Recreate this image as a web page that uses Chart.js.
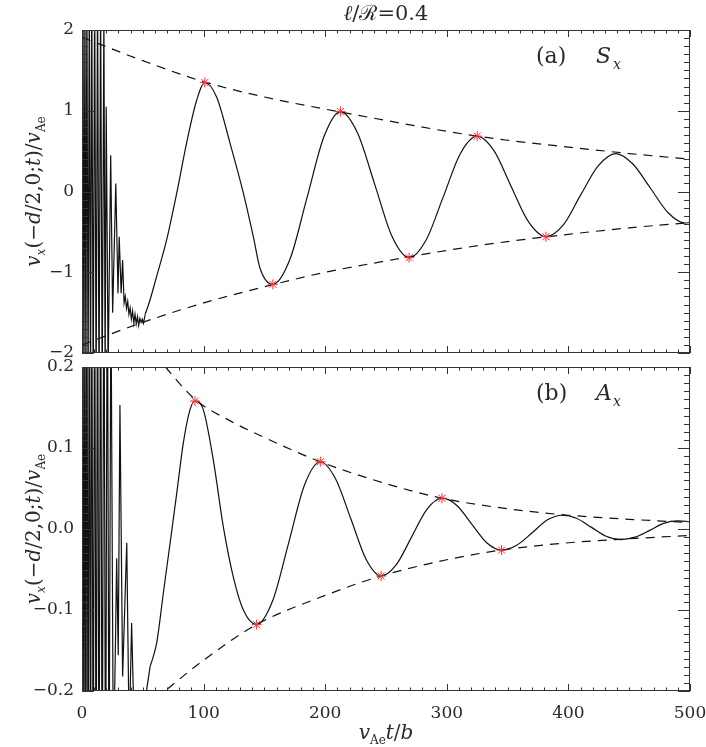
<!DOCTYPE html>
<html>
<head>
<meta charset="utf-8">
<script src="https://cdn.jsdelivr.net/npm/chart.js@4.4.0/dist/chart.umd.min.js"></script>
<style>
body { margin: 0; background: #fff; }
#wrap { position: relative; width: 706px; height: 747px; }
canvas { position: absolute; left: 0; }
</style>
</head>
<body>
<div id="wrap">
<canvas id="topChart" width="706" height="370" style="top:0px"></canvas>
<canvas id="botChart" width="706" height="410" style="top:337px"></canvas>
</div>
<script>
// ---- panel (a): S_x ----
var noiseTopX = [0, 0.8, 1.6, 2.4, 3.2, 4.0, 5.0, 6.0, 7.0, 8.0, 9.2, 10.4, 11.6, 12.8, 14.0, 15.3, 16.6, 18.0, 19.0, 19.9, 21.5, 23.6, 25.2, 27.8, 29.6, 30.6, 32.2, 33.4, 34.6, 35.6, 36.6, 37.6, 38.6, 39.6, 40.6, 41.6, 42.6, 43.6, 44.6, 45.6, 46.6, 47.6, 48.6, 49.6, 50.6, 52];
var noiseTopY = [0, 2.6, -2.6, 2.6, -2.6, 2.6, -2.6, 2.6, -2.6, 2.6, -2.6, 2.6, -2.6, 2.6, -2.6, 2.4, -2.5, 2.2, -2.3, 1.05, -2.2, 0.45, -1.5, 0.10, -1.26, -0.56, -1.26, -0.85, -1.38, -1.30, -1.45, -1.36, -1.52, -1.44, -1.58, -1.48, -1.63, -1.52, -1.64, -1.55, -1.66, -1.57, -1.62, -1.58, -1.63, -1.52];

var waveTopX = [52, 56, 61.4, 69.6, 77.9, 86, 94.3, 101, 110.7, 121.7, 132.7, 140.9, 146.4, 157, 171, 185, 199, 212.5, 226.6, 240.8, 254.9, 269, 283, 297, 311, 325, 339, 353, 367.4, 381.5, 396, 410, 424.6, 439, 453, 467.5, 481.8, 496, 500];
var waveTopY = [-1.52, -1.34, -1.05, -0.60, -0.02, 0.60, 1.13, 1.35, 1.17, 0.60, -0.02, -0.56, -0.95, -1.15, -0.84, -0.08, 0.68, 0.99, 0.725, 0.085, -0.555, -0.82, -0.60, -0.07, 0.465, 0.685, 0.50, 0.06, -0.38, -0.56, -0.41, -0.045, 0.32, 0.47, 0.34, 0.04, -0.26, -0.39, -0.385];

var starTopX = [101, 157, 212.5, 269, 325, 381.5];
var starTopY = [1.35, -1.15, 0.99, -0.82, 0.685, -0.56];

var envTopX = [0, 50, 100, 150, 200, 250, 300, 350, 400, 450, 500];
var envTopUp = [1.91, 1.62, 1.36, 1.17, 1.02, 0.88, 0.745, 0.635, 0.55, 0.47, 0.40];
var envTopLo = [-1.90, -1.62, -1.38, -1.18, -1.00, -0.86, -0.73, -0.62, -0.53, -0.45, -0.385];

// ---- panel (b): A_x ----
var noiseBotX = [0, 0.8, 1.6, 2.4, 3.2, 4.0, 5.0, 6.0, 7.0, 8.0, 9.2, 10.4, 11.6, 12.8, 14.0, 15.3, 16.6, 18.0, 19.4, 20.8, 22.2, 23.8, 25.8, 27.6, 28.5, 29.8, 31.2, 33.4, 36.8, 38.8, 40.8, 43.5, 46.5, 48, 49.5, 51, 52.5, 54, 56];
var noiseBotY = [0, 0.4, -0.4, 0.4, -0.4, 0.4, -0.4, 0.4, -0.4, 0.4, -0.4, 0.4, -0.4, 0.4, -0.4, 0.4, -0.4, 0.4, -0.4, 0.4, -0.35, 0.3, -0.3, -0.133, -0.036, -0.156, 0.153, -0.182, -0.017, -0.26, -0.116, -0.28, -0.21, -0.24, -0.2, -0.235, -0.205, -0.19, -0.17];

var waveBotX = [56, 61.4, 66.9, 72.4, 77.9, 83.3, 88.8, 92.9, 99.8, 108, 116.2, 124.4, 132.7, 143.6, 156.7, 169.8, 182.9, 196, 208.5, 221, 233.5, 246, 258.5, 271, 283.5, 296, 308.3, 320.5, 332.8, 345, 357.5, 370, 382.5, 395, 407, 419, 431, 443, 454.8, 466.5, 478.3, 490, 500];
var waveBotY = [-0.170, -0.141, -0.079, -0.018, 0.044, 0.106, 0.147, 0.158, 0.147, 0.085, 0.003, -0.059, -0.100, -0.118, -0.089, -0.018, 0.054, 0.083, 0.062, 0.013, -0.037, -0.058, -0.044, -0.010, 0.024, 0.038, 0.029, 0.006, -0.017, -0.026, -0.020, -0.005, 0.011, 0.017, 0.013, 0.002, -0.009, -0.013, -0.010, -0.002, 0.007, 0.010, 0.009];

var starBotX = [92.9, 143.6, 196, 246, 296, 345];
var starBotY = [0.158, -0.118, 0.083, -0.058, 0.038, -0.026];

var envBotUpX = [60, 93, 120, 150, 196, 250, 296, 350, 400, 450, 500];
var envBotUp = [0.215, 0.16, 0.135, 0.113, 0.083, 0.056, 0.038, 0.025, 0.017, 0.012, 0.008];
var envBotLoX = [60, 100, 143.6, 200, 246, 300, 345, 400, 450, 500];
var envBotLo = [-0.21, -0.162, -0.118, -0.082, -0.058, -0.038, -0.026, -0.017, -0.012, -0.008];

var FONT = '"DejaVu Serif", "Liberation Serif", serif';
var INK = '#2a2a2a';

function pts(xs, ys) {
    return xs.map(function (x, i) { return { x: x, y: ys[i] }; });
}

function minus(s) {
    return String(s).replace('-', '\u2212');
}

// text made of pieces, some italic, some subscript
function rich(ctx, parts, cx, cy, angle, size) {
    ctx.save();
    ctx.translate(cx, cy);
    ctx.rotate(angle);
    ctx.fillStyle = INK;
    ctx.textBaseline = 'middle';
    var total = 0;
    parts.forEach(function (p) {
        p.font = (p.i ? 'italic ' : '') + (p.s ? Math.round(size * 0.62) : size) + 'px ' + FONT;
        ctx.font = p.font;
        p.w = ctx.measureText(p.t).width;
        total += p.w;
    });
    var x = -total / 2;
    parts.forEach(function (p) {
        ctx.font = p.font;
        ctx.fillText(p.t, x, p.s ? size * 0.32 : 0);
        x += p.w;
    });
    ctx.restore();
}

var yTitle = [{t: 'v', i: 1}, {t: 'x', i: 1, s: 1}, {t: '(\u2212'}, {t: 'd', i: 1}, {t: '/2,0;'}, {t: 't', i: 1}, {t: ')/'}, {t: 'v', i: 1}, {t: 'Ae', s: 1}];

// box + inward ticks on all four sides
var frame = {
    id: 'frame',
    afterDatasetsDraw: function (chart, args, opts) {
        var a = chart.chartArea, ctx = chart.ctx;
        var xs = chart.scales.x, ys = chart.scales.y;
        ctx.save();
        ctx.strokeStyle = '#333';
        ctx.lineWidth = 1;
        ctx.strokeRect(a.left + 0.5, a.top + 0.5, a.right - a.left - 1, a.bottom - a.top - 1);
        ctx.beginPath();
        for (var i = 0; i <= 50; i++) {
            var px = Math.round(xs.getPixelForValue(i * 10)) + 0.5;
            var len = i % 10 === 0 ? 7 : 3.5;
            ctx.moveTo(px, a.bottom); ctx.lineTo(px, a.bottom - len);
            ctx.moveTo(px, a.top); ctx.lineTo(px, a.top + len);
        }
        var n = Math.round((ys.max - ys.min) / opts.minor);
        for (var j = 0; j <= n; j++) {
            var v = ys.min + j * opts.minor;
            var r = v / opts.major;
            var big = Math.abs(r - Math.round(r)) < 1e-6;
            var py = Math.round(ys.getPixelForValue(v)) + 0.5;
            var l = big ? 12 : 6;
            ctx.moveTo(a.left, py); ctx.lineTo(a.left + l, py);
            ctx.moveTo(a.right, py); ctx.lineTo(a.right - l, py);
        }
        ctx.stroke();
        ctx.restore();
    }
};

function panelLabel(ctx, tag, letter) {
    ctx.save();
    ctx.fillStyle = INK;
    ctx.textBaseline = 'middle';
    ctx.font = '22px ' + FONT;
    ctx.fillText(tag, 536, 57);
    ctx.font = 'italic 22px ' + FONT;
    ctx.fillText(letter, 596, 57);
    ctx.font = 'italic 14px ' + FONT;
    ctx.fillText('x', 613, 65);
    ctx.restore();
}

function datasets(nx, ny, wx, wy, sx, sy, eux, euy, elx, ely) {
    return [
        {
            data: pts(sx, sy), showLine: false, pointStyle: 'star', pointRadius: 5,
            pointBorderColor: '#ff3030', pointBorderWidth: 1, pointBackgroundColor: '#ff3030'
        },
        { data: pts(wx, wy), borderColor: '#111', borderWidth: 1.2, pointRadius: 0, cubicInterpolationMode: 'monotone' },
        { data: pts(nx, ny), borderColor: '#111', borderWidth: 1.2, pointRadius: 0, tension: 0 },
        { data: pts(eux, euy), borderColor: '#111', borderWidth: 1.2, borderDash: [9, 7], pointRadius: 0, cubicInterpolationMode: 'monotone' },
        { data: pts(elx, ely), borderColor: '#111', borderWidth: 1.2, borderDash: [9, 7], pointRadius: 0, cubicInterpolationMode: 'monotone' }
    ];
}

function yAxis(lim, step, fmt) {
    return {
        type: 'linear', min: -lim, max: lim,
        grid: { display: false, drawTicks: false },
        border: { display: false },
        ticks: { stepSize: step, padding: 8, color: INK, font: { family: FONT, size: 17 }, callback: fmt },
        afterFit: function (s) { s.width = 82; s.paddingTop = 0; s.paddingBottom = 0; }
    };
}

function xAxis(show) {
    return {
        type: 'linear', min: 0, max: 500,
        grid: { display: false, drawTicks: false }, border: { display: false },
        ticks: { display: show, stepSize: 100, padding: 12, maxRotation: 0, color: INK, font: { family: FONT, size: 17 } },
        afterFit: function (s) { s.height = show ? 56 : 0; s.paddingLeft = 0; s.paddingRight = 0; }
    };
}

var topChart = new Chart(document.getElementById('topChart').getContext('2d'), {
    type: 'line',
    data: { datasets: datasets(noiseTopX, noiseTopY, waveTopX, waveTopY, starTopX, starTopY, envTopX, envTopUp, envTopX, envTopLo) },
    options: {
        responsive: false, animation: false, devicePixelRatio: 1,
        layout: { padding: { top: 30, right: 16, bottom: 17, left: 0 } },
        plugins: { legend: { display: false }, tooltip: { enabled: false }, frame: { minor: 0.1, major: 1 } },
        scales: { x: xAxis(false), y: yAxis(2, 1, function (v) { return minus(v); }) }
    },
    plugins: [frame, {
        id: 'textA',
        afterDraw: function (chart) {
            var ctx = chart.ctx;
            rich(ctx, [{t: '\u2113', i: 1}, {t: '/'}, {t: '\u211B'}, {t: '=0.4'}], 386, 15, 0, 21);
            rich(ctx, yTitle, 35, 191.5, -Math.PI / 2, 20);
            panelLabel(ctx, '(a)', 'S');
        }
    }]
});

var botChart = new Chart(document.getElementById('botChart').getContext('2d'), {
    type: 'line',
    data: { datasets: datasets(noiseBotX, noiseBotY, waveBotX, waveBotY, starBotX, starBotY, envBotUpX, envBotUp, envBotLoX, envBotLo) },
    options: {
        responsive: false, animation: false, devicePixelRatio: 1,
        layout: { padding: { top: 30, right: 16, bottom: 0, left: 0 } },
        plugins: { legend: { display: false }, tooltip: { enabled: false }, frame: { minor: 0.01, major: 0.1 } },
        scales: { x: xAxis(true), y: yAxis(0.2, 0.1, function (v) { return minus(v.toFixed(1)); }) }
    },
    plugins: [frame, {
        id: 'textB',
        afterDraw: function (chart) {
            var ctx = chart.ctx;
            rich(ctx, yTitle, 35, 192, -Math.PI / 2, 20);
            rich(ctx, [{t: 'v', i: 1}, {t: 'Ae', s: 1}, {t: 't', i: 1}, {t: '/'}, {t: 'b', i: 1}], 386, 397, 0, 20);
            panelLabel(ctx, '(b)', 'A');
        }
    }]
});
</script>
</body>
</html>
